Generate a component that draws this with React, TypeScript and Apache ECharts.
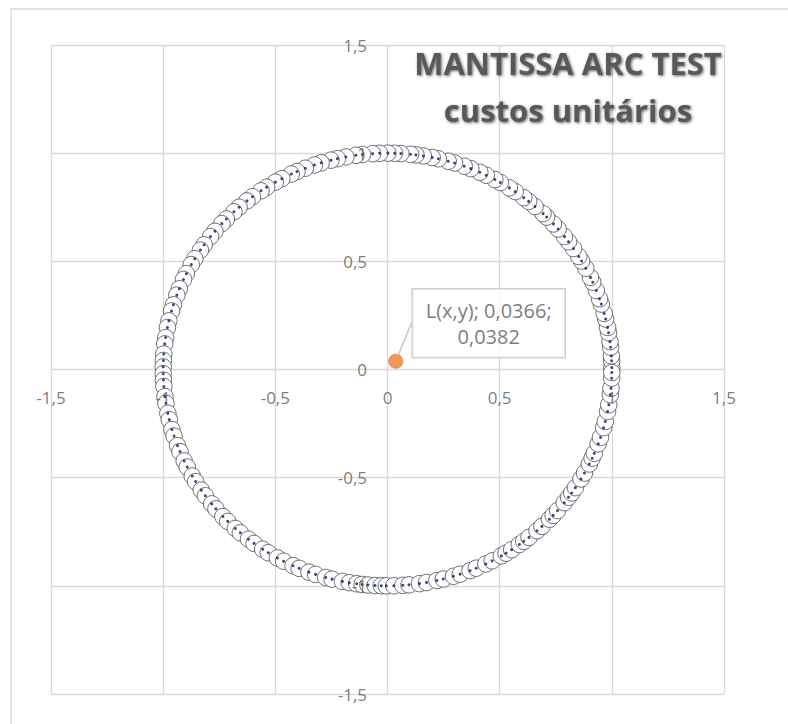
import React, { useEffect, useRef } from "react";
import * as echarts from "echarts";

// angles (degrees) of the circle markers; all on the unit circle
const markerAngles: number[] = [
  0.5, 2.3, 3.6, 5.9, 7.4, 9.8, 11.2, 13.5, 15.0, 17.6, 19.1, 21.4, 23.8, 25.2, 27.9, 30.1, 31.5, 34.0, 36.2,
  37.9, 40.5, 42.3, 44.8, 46.1, 48.9, 51.0, 52.6, 55.3, 57.1, 59.8, 61.4, 63.9, 65.7, 68.2, 70.0, 72.6, 74.3,
  76.9, 78.5, 80.8, 82.7, 84.1, 86.6, 88.2, 89.9,
  92.0, 93.8, 96.4, 98.1, 100.7, 102.9, 104.6, 107.2, 109.0, 111.5, 113.8, 115.4, 118.1, 120.0, 122.6, 124.3,
  127.0, 128.8, 131.4, 133.2, 135.9, 137.6, 140.3, 142.1, 144.8, 146.5, 149.2, 151.0, 153.7, 155.4, 158.1,
  159.9, 162.6, 164.3, 167.0, 168.8, 171.5, 173.2, 175.9, 177.6, 179.3,
  181.1, 182.8, 184.5, 187.2, 189.0, 191.7, 193.4, 196.1, 197.9, 200.6, 202.3, 205.0, 206.8, 209.5, 211.2,
  213.9, 215.7, 218.4, 220.1, 222.8, 224.6, 227.3, 229.0, 231.7, 233.5, 236.2, 237.9, 240.6, 242.4, 245.1,
  246.8, 249.5, 251.3, 254.0, 255.7, 258.4, 260.2, 262.1, 263.5, 265.0, 266.8, 268.4, 269.7,
  271.6, 273.9, 275.5, 278.2, 280.0, 282.7, 284.4, 287.1, 288.9, 291.6, 293.3, 296.0, 297.8, 300.5, 301.9,
  303.6, 306.0, 307.4, 309.1, 311.8, 313.5, 316.2, 317.6, 319.3, 322.0, 323.8, 325.2, 326.9, 329.6, 331.4,
  334.1, 335.8, 337.2, 339.9, 341.7, 344.4, 346.1, 348.8, 350.6, 353.3, 355.0, 357.7, 359.2,
];

const markerRadius = 1;

// the labelled point L(x,y)
const pointL: [number, number] = [0.0366, 0.0382];
const pointLabel = ["L(x,y); 0,0366;", "0,0382"];

// axis settings and tick labels (shown along the zero lines)
const axisMin = -1.5;
const axisMax = 1.5;
const axisStep = 0.5;
const tickValues = [-1.5, -1, -0.5, 0, 0.5, 1, 1.5];

const titleLines = ["MANTISSA ARC TEST", "custos unitários"];

const fmt = (v: number) => String(v).replace(".", ",");

export default function App() {
  const ref = useRef<HTMLDivElement>(null);

  useEffect(() => {
    if (!ref.current) return;
    const chart = echarts.init(ref.current, undefined, { renderer: "svg" });

    const circlePoints = markerAngles.map((a) => [
      markerRadius * Math.cos((a * Math.PI) / 180),
      markerRadius * Math.sin((a * Math.PI) / 180),
    ]);

    const gridColor = "#d9d9d9";
    const labelColor = "#595959";
    const font = "'Open Sans', 'Noto Sans', sans-serif";

    const axis = {
      type: "value" as const,
      min: axisMin,
      max: axisMax,
      interval: axisStep,
      axisLine: { show: false, onZero: false },
      axisTick: { show: false },
      axisLabel: { show: false },
      splitLine: { show: true, lineStyle: { color: gridColor, width: 1.3 } },
    };

    const tickLabelStyle = {
      show: true,
      color: labelColor,
      fontSize: 17,
      fontFamily: font,
      formatter: (p: any) => fmt(p.data.v),
    };

    chart.setOption({
      animation: false,
      backgroundColor: "#ffffff",
      grid: { left: 51, right: 64, top: 45, bottom: 30, containLabel: false },
      xAxis: axis,
      yAxis: axis,
      graphic: [
        {
          type: "rect",
          shape: { x: 11, y: 9, width: 800, height: 740 },
          style: { fill: "none", stroke: "#d9d9d9", lineWidth: 1.3 },
          z: -10,
          silent: true,
        },
        {
          type: "text",
          x: 568,
          y: 86,
          z: 100,
          style: {
            text: titleLines.join("\n"),
            align: "center",
            verticalAlign: "middle",
            fontFamily: font,
            fontWeight: "bold",
            fontSize: 31,
            lineHeight: 47,
            fill: "#595959",
            textShadowColor: "rgba(0,0,0,0.6)",
            textShadowBlur: 3,
            textShadowOffsetX: 1,
            textShadowOffsetY: 1,
          },
        },
      ],
      series: [
        {
          type: "scatter",
          data: circlePoints,
          symbol: "circle",
          symbolSize: 16.5,
          itemStyle: { color: "#ffffff", borderColor: "#404040", borderWidth: 0.75, opacity: 1 },
          z: 2,
          silent: true,
        },
        {
          type: "scatter",
          data: circlePoints,
          symbol: "circle",
          symbolSize: 3,
          itemStyle: { color: "#002060" },
          z: 3,
          silent: true,
        },
        // x tick labels along y = 0
        {
          type: "scatter",
          data: tickValues.map((v) => ({ value: [v, 0], v })),
          symbol: "circle",
          symbolSize: 1,
          itemStyle: { color: "rgba(0,0,0,0)" },
          label: { ...tickLabelStyle, position: "bottom", distance: 19 },
          labelLayout: { hideOverlap: false },
          z: 8,
          silent: true,
        },
        // y tick labels along x = 0
        {
          type: "scatter",
          data: tickValues.map((v) => ({ value: [0, v], v })),
          symbol: "circle",
          symbolSize: 1,
          itemStyle: { color: "rgba(0,0,0,0)" },
          label: { ...tickLabelStyle, position: "left", distance: 20 },
          labelLayout: { hideOverlap: false },
          z: 8,
          silent: true,
        },
        {
          type: "scatter",
          data: [pointL],
          symbol: "circle",
          symbolSize: 14,
          itemStyle: { color: "#ed7d31", borderColor: "#ed7d31" },
          z: 5,
          label: {
            show: true,
            position: "inside",
            formatter: () => pointLabel.join("\n"),
            color: labelColor,
            fontSize: 20,
            fontFamily: font,
            lineHeight: 26,
            align: "center",
            backgroundColor: "#ffffff",
            borderColor: "#bfbfbf",
            borderWidth: 1.3,
            padding: [8, 13, 8, 13],
          },
          labelLayout: { dx: 93, dy: -38 },
          labelLine: { show: true, lineStyle: { color: "#bfbfbf", width: 1.3 } },
        },
      ],
    });

    return () => chart.dispose();
  }, []);

  return (
    <div
      ref={ref}
      style={{ position: "fixed", left: 0, top: 0, width: 788, height: 724, background: "#fff" }}
    />
  );
}
